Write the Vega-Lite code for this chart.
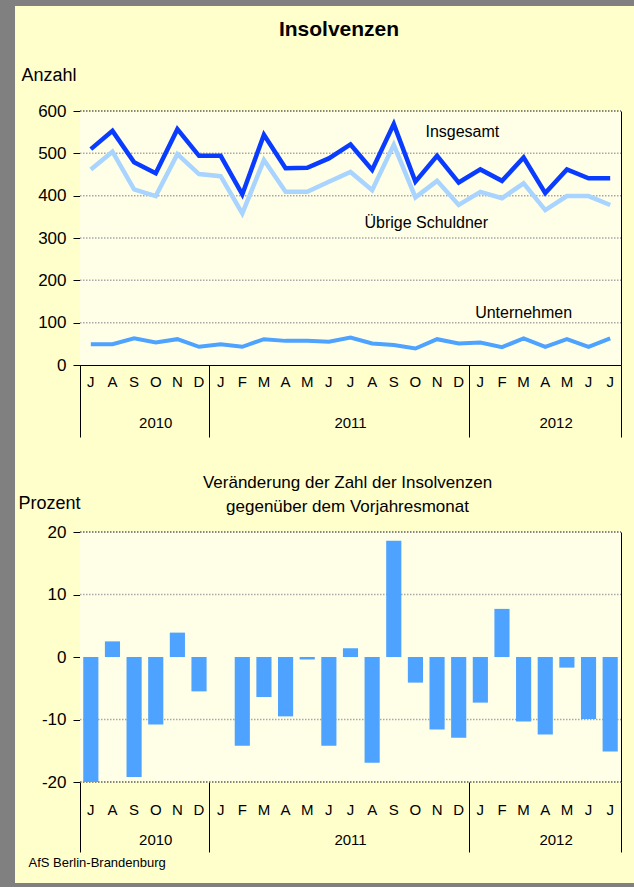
{
  "$schema": "https://vega.github.io/schema/vega-lite/v6.json",
  "width": 619,
  "height": 877,
  "autosize": {"type": "none"},
  "padding": {"left": 15, "top": 6, "right": 0, "bottom": 4},
  "background": "#808080",
  "config": {
    "view": {"fill": "#FFFFCC", "stroke": null},
    "font": "Liberation Sans",
    "axis": {
      "labelFont": "Liberation Sans", "titleFont": "Liberation Sans",
      "labelColor": "#000000", "titleColor": "#000000", "titleFontWeight": "normal",
      "domainColor": "#000000", "tickColor": "#000000", "zindex": 1,
      "labelOverlap": false, "labelFlush": false, "grid": false, "labelAngle": 0
    }
  },
  "datasets": {
    "monate": [
      {"k": "2010-07", "ins": 510, "ueb": 462, "unt": 49, "ver": -20.0},
      {"k": "2010-08", "ins": 553, "ueb": 504, "unt": 49, "ver": 2.5},
      {"k": "2010-09", "ins": 479, "ueb": 415, "unt": 63, "ver": -19.2},
      {"k": "2010-10", "ins": 453, "ueb": 399, "unt": 53, "ver": -10.8},
      {"k": "2010-11", "ins": 557, "ueb": 498, "unt": 61, "ver": 3.9},
      {"k": "2010-12", "ins": 494, "ueb": 451, "unt": 43, "ver": -5.5},
      {"k": "2011-01", "ins": 494, "ueb": 446, "unt": 49, "ver": 0},
      {"k": "2011-02", "ins": 403, "ueb": 358, "unt": 43, "ver": -14.2},
      {"k": "2011-03", "ins": 544, "ueb": 484, "unt": 61, "ver": -6.4},
      {"k": "2011-04", "ins": 465, "ueb": 409, "unt": 57, "ver": -9.5},
      {"k": "2011-05", "ins": 466, "ueb": 409, "unt": 57, "ver": -0.4},
      {"k": "2011-06", "ins": 488, "ueb": 433, "unt": 55, "ver": -14.2},
      {"k": "2011-07", "ins": 521, "ueb": 456, "unt": 65, "ver": 1.4},
      {"k": "2011-08", "ins": 461, "ueb": 413, "unt": 51, "ver": -16.9},
      {"k": "2011-09", "ins": 569, "ueb": 520, "unt": 47, "ver": 18.6},
      {"k": "2011-10", "ins": 433, "ueb": 396, "unt": 39, "ver": -4.1},
      {"k": "2011-11", "ins": 494, "ueb": 435, "unt": 61, "ver": -11.6},
      {"k": "2011-12", "ins": 431, "ueb": 378, "unt": 51, "ver": -12.9},
      {"k": "2012-01", "ins": 462, "ueb": 409, "unt": 53, "ver": -7.3},
      {"k": "2012-02", "ins": 435, "ueb": 394, "unt": 42, "ver": 7.7},
      {"k": "2012-03", "ins": 490, "ueb": 429, "unt": 63, "ver": -10.3},
      {"k": "2012-04", "ins": 406, "ueb": 366, "unt": 43, "ver": -12.4},
      {"k": "2012-05", "ins": 462, "ueb": 399, "unt": 61, "ver": -1.7},
      {"k": "2012-06", "ins": 441, "ueb": 399, "unt": 43, "ver": -9.9},
      {"k": "2012-07", "ins": 441, "ueb": 378, "unt": 63, "ver": -15.1}
    ]
  },
  "resolve": {
    "scale": {"x": "independent", "y": "independent"},
    "axis": {"x": "independent", "y": "independent"}
  },
  "layer": [
    {
      "data": {"values": [{}]},
      "mark": {"type": "rect", "fill": "#FFFFE8"},
      "encoding": {
        "x": {"datum": 0, "type": "quantitative", "scale": {"domain": [0, 1], "range": [65, 606]}, "axis": null},
        "x2": {"datum": 1},
        "y": {"datum": 0, "type": "quantitative", "scale": {"domain": [0, 600], "range": [359, 105], "nice": false},
          "axis": {"orient": "left", "offset": -65, "values": [0, 100, 200, 300, 400, 500, 600],
            "domain": true, "ticks": true, "tickSize": 7, "labelPadding": 7, "labelFontSize": 17,
            "title": "Anzahl", "titleAngle": 0, "titleAlign": "left", "titleBaseline": "middle",
            "titleX": -59, "titleY": 69, "titleFontSize": 18}},
        "y2": {"datum": 600}
      }
    },
    {
      "data": {"values": [{}]},
      "mark": {"type": "rect", "fill": "#FFFFE8"},
      "encoding": {
        "x": {"datum": 0, "type": "quantitative", "scale": {"domain": [0, 1], "range": [65, 606]}, "axis": null},
        "x2": {"datum": 1},
        "y": {"datum": -20, "type": "quantitative", "scale": {"domain": [-20, 20], "range": [776, 526], "nice": false},
          "axis": {"orient": "left", "offset": -65, "values": [-20, -10, 0, 10, 20],
            "labelExpr": "toString(datum.value)",
            "domain": true, "ticks": true, "tickSize": 7, "labelPadding": 7, "labelFontSize": 17,
            "title": "Prozent", "titleAngle": 0, "titleAlign": "left", "titleBaseline": "middle",
            "titleX": -62, "titleY": 497, "titleFontSize": 18}},
        "y2": {"datum": 20}
      }
    },
    {
      "data": {"values": [{"v": 100}, {"v": 200}, {"v": 300}, {"v": 400}, {"v": 500}, {"v": 600}]},
      "mark": {"type": "rule", "strokeWidth": 1.5, "strokeDash": [1.5, 1.5]},
      "encoding": {
        "x": {"datum": 0, "type": "quantitative", "scale": {"domain": [0, 1], "range": [65, 606]}, "axis": null},
        "x2": {"datum": 1},
        "y": {"field": "v", "type": "quantitative", "scale": {"domain": [0, 600], "range": [359, 105], "nice": false},
          "axis": {"orient": "right", "offset": -13, "domain": true, "ticks": false, "labels": false, "title": null}},
        "color": {"condition": {"test": "datum.v == 600", "value": "#606060"}, "value": "#A8A8A8"}
      }
    },
    {
      "data": {"values": [{"v": -20}, {"v": -10}, {"v": 10}, {"v": 20}]},
      "mark": {"type": "rule", "strokeWidth": 1.5, "strokeDash": [1.5, 1.5]},
      "encoding": {
        "x": {"datum": 0, "type": "quantitative", "scale": {"domain": [0, 1], "range": [65, 606]}, "axis": null},
        "x2": {"datum": 1},
        "y": {"field": "v", "type": "quantitative", "scale": {"domain": [-20, 20], "range": [776, 526], "nice": false},
          "axis": {"orient": "right", "offset": -13, "domain": true, "ticks": false, "labels": false, "title": null}},
        "color": {"condition": {"test": "abs(datum.v) == 20", "value": "#606060"}, "value": "#A8A8A8"}
      }
    },
    {
      "data": {"name": "monate"},
      "mark": {"type": "line", "color": "#A8D4FF", "strokeWidth": 4.5},
      "encoding": {
        "x": {"field": "k", "type": "ordinal", "bandPosition": 0.5,
          "scale": {"type": "band", "domain": ["2010-07","2010-08","2010-09","2010-10","2010-11","2010-12","2011-01","2011-02","2011-03","2011-04","2011-05","2011-06","2011-07","2011-08","2011-09","2011-10","2011-11","2011-12","2012-01","2012-02","2012-03","2012-04","2012-05","2012-06","2012-07"], "range": [65, 606], "paddingInner": 0, "paddingOuter": 0},
          "axis": {"orient": "bottom", "offset": -518, "values": ["2010-07", "2011-01", "2012-01"], "bandPosition": 0,
            "domain": false, "ticks": true, "tickSize": 72, "labels": true,
            "labelExpr": "substring(datum.value, 0, 4)", "labelFontSize": 15, "labelPadding": -15, "labelBaseline": "middle",
            "labelOffset": {"condition": [{"test": "datum.value == '2010-07'", "value": 64.92}, {"test": "datum.value == '2011-01'", "value": 129.84}], "value": 75.74},
            "title": null}},
        "y": {"field": "ueb", "type": "quantitative", "scale": {"domain": [0, 600], "range": [359, 105], "nice": false}, "axis": null}
      }
    },
    {
      "data": {"name": "monate"},
      "mark": {"type": "line", "color": "#4DA3FF", "strokeWidth": 4},
      "encoding": {
        "x": {"field": "k", "type": "ordinal", "bandPosition": 0.5,
          "scale": {"type": "band", "domain": ["2010-07","2010-08","2010-09","2010-10","2010-11","2010-12","2011-01","2011-02","2011-03","2011-04","2011-05","2011-06","2011-07","2011-08","2011-09","2011-10","2011-11","2011-12","2012-01","2012-02","2012-03","2012-04","2012-05","2012-06","2012-07"], "range": [65, 606], "paddingInner": 0, "paddingOuter": 0},
          "axis": {"orient": "bottom", "offset": -518, "values": ["2012-07"], "bandPosition": 1,
            "domain": false, "ticks": true, "tickSize": 72, "labels": false, "title": null}},
        "y": {"field": "unt", "type": "quantitative", "scale": {"domain": [0, 600], "range": [359, 105], "nice": false}, "axis": null}
      }
    },
    {
      "data": {"name": "monate"},
      "mark": {"type": "line", "color": "#0A3CFF", "strokeWidth": 4.5},
      "encoding": {
        "x": {"field": "k", "type": "ordinal", "bandPosition": 0.5,
          "scale": {"type": "band", "domain": ["2010-07","2010-08","2010-09","2010-10","2010-11","2010-12","2011-01","2011-02","2011-03","2011-04","2011-05","2011-06","2011-07","2011-08","2011-09","2011-10","2011-11","2011-12","2012-01","2012-02","2012-03","2012-04","2012-05","2012-06","2012-07"], "range": [65, 606], "paddingInner": 0, "paddingOuter": 0},
          "axis": {"orient": "bottom", "offset": -518, "domain": true, "ticks": false, "tickSize": 0,
            "labelExpr": "['J','F','M','A','M','J','J','A','S','O','N','D'][toNumber(substring(datum.value, 5, 7)) - 1]",
            "labelFontSize": 15, "labelPadding": 16, "labelBaseline": "middle", "title": null}},
        "y": {"field": "ins", "type": "quantitative", "scale": {"domain": [0, 600], "range": [359, 105], "nice": false}, "axis": null}
      }
    },
    {
      "data": {"values": [{"label": "Insgesamt", "k": "2011-12", "wert": 551}]},
      "mark": {"type": "text", "fontSize": 16, "color": "#000000", "align": "center", "baseline": "middle"},
      "encoding": {
        "x": {"field": "k", "type": "ordinal", "bandPosition": 0.67,
          "scale": {"type": "band", "domain": ["2010-07","2010-08","2010-09","2010-10","2010-11","2010-12","2011-01","2011-02","2011-03","2011-04","2011-05","2011-06","2011-07","2011-08","2011-09","2011-10","2011-11","2011-12","2012-01","2012-02","2012-03","2012-04","2012-05","2012-06","2012-07"], "range": [65, 606], "paddingInner": 0, "paddingOuter": 0},
          "axis": {"orient": "top", "offset": -105, "domain": false, "ticks": false, "labels": false,
            "title": "Insolvenzen", "titleFontSize": 21, "titleFontWeight": "bold", "titleAngle": 0,
            "titleX": 323.5, "titleY": -82, "titleAlign": "center", "titleBaseline": "middle"}},
        "y": {"field": "wert", "type": "quantitative", "scale": {"domain": [0, 600], "range": [359, 105], "nice": false}, "axis": null},
        "text": {"field": "label"}
      }
    },
    {
      "data": {"values": [{"label": "Übrige Schuldner", "k": "2011-11", "wert": 335}]},
      "mark": {"type": "text", "fontSize": 16, "color": "#000000", "align": "center", "baseline": "middle"},
      "encoding": {
        "x": {"field": "k", "type": "ordinal", "bandPosition": 0,
          "scale": {"type": "band", "domain": ["2010-07","2010-08","2010-09","2010-10","2010-11","2010-12","2011-01","2011-02","2011-03","2011-04","2011-05","2011-06","2011-07","2011-08","2011-09","2011-10","2011-11","2011-12","2012-01","2012-02","2012-03","2012-04","2012-05","2012-06","2012-07"], "range": [65, 606], "paddingInner": 0, "paddingOuter": 0},
          "axis": null},
        "y": {"field": "wert", "type": "quantitative", "scale": {"domain": [0, 600], "range": [359, 105], "nice": false}, "axis": null},
        "text": {"field": "label"}
      }
    },
    {
      "data": {"values": [{"label": "Unternehmen", "k": "2012-03", "wert": 122}]},
      "mark": {"type": "text", "fontSize": 16, "color": "#000000", "align": "center", "baseline": "middle"},
      "encoding": {
        "x": {"field": "k", "type": "ordinal", "bandPosition": 0.5,
          "scale": {"type": "band", "domain": ["2010-07","2010-08","2010-09","2010-10","2010-11","2010-12","2011-01","2011-02","2011-03","2011-04","2011-05","2011-06","2011-07","2011-08","2011-09","2011-10","2011-11","2011-12","2012-01","2012-02","2012-03","2012-04","2012-05","2012-06","2012-07"], "range": [65, 606], "paddingInner": 0, "paddingOuter": 0},
          "axis": null},
        "y": {"field": "wert", "type": "quantitative", "scale": {"domain": [0, 600], "range": [359, 105], "nice": false}, "axis": null},
        "text": {"field": "label"}
      }
    },
    {
      "data": {"name": "monate"},
      "mark": {"type": "bar", "color": "#4DA3FF", "width": {"band": 0.7}},
      "encoding": {
        "x": {"field": "k", "type": "ordinal",
          "scale": {"type": "band", "domain": ["2010-07","2010-08","2010-09","2010-10","2010-11","2010-12","2011-01","2011-02","2011-03","2011-04","2011-05","2011-06","2011-07","2011-08","2011-09","2011-10","2011-11","2011-12","2012-01","2012-02","2012-03","2012-04","2012-05","2012-06","2012-07"], "range": [65, 606], "paddingInner": 0, "paddingOuter": 0},
          "axis": {"orient": "bottom", "offset": -226, "domain": true, "domainColor": "#303030", "ticks": false, "tickSize": 0,
            "labelExpr": "['J','F','M','A','M','J','J','A','S','O','N','D'][toNumber(substring(datum.value, 5, 7)) - 1]",
            "labelFontSize": 15, "labelPadding": 152, "labelBaseline": "middle", "title": null}},
        "y": {"field": "ver", "type": "quantitative", "scale": {"domain": [-20, 20], "range": [776, 526], "nice": false}, "axis": null}
      }
    },
    {
      "data": {"name": "monate"},
      "mark": {"type": "rule", "opacity": 0},
      "encoding": {
        "x": {"field": "k", "type": "ordinal",
          "scale": {"type": "band", "domain": ["2010-07","2010-08","2010-09","2010-10","2010-11","2010-12","2011-01","2011-02","2011-03","2011-04","2011-05","2011-06","2011-07","2011-08","2011-09","2011-10","2011-11","2011-12","2012-01","2012-02","2012-03","2012-04","2012-05","2012-06","2012-07"], "range": [65, 606], "paddingInner": 0, "paddingOuter": 0},
          "axis": {"orient": "bottom", "offset": -101, "values": ["2010-07", "2011-01", "2012-01"], "bandPosition": 0,
            "domain": false, "ticks": true, "tickSize": 70, "labels": true,
            "labelExpr": "substring(datum.value, 0, 4)", "labelFontSize": 15, "labelPadding": -13, "labelBaseline": "middle",
            "labelOffset": {"condition": [{"test": "datum.value == '2010-07'", "value": 64.92}, {"test": "datum.value == '2011-01'", "value": 129.84}], "value": 75.74},
            "title": "AfS Berlin-Brandenburg", "titleFontSize": 13, "titleAngle": 0, "titleAlign": "left", "titleBaseline": "middle",
            "titleX": 13, "titleY": 80}}
      }
    },
    {
      "data": {"name": "monate"},
      "mark": {"type": "rule", "opacity": 0},
      "encoding": {
        "x": {"field": "k", "type": "ordinal",
          "scale": {"type": "band", "domain": ["2010-07","2010-08","2010-09","2010-10","2010-11","2010-12","2011-01","2011-02","2011-03","2011-04","2011-05","2011-06","2011-07","2011-08","2011-09","2011-10","2011-11","2011-12","2012-01","2012-02","2012-03","2012-04","2012-05","2012-06","2012-07"], "range": [65, 606], "paddingInner": 0, "paddingOuter": 0},
          "axis": {"orient": "bottom", "offset": -101, "values": ["2012-07"], "bandPosition": 1,
            "domain": false, "ticks": true, "tickSize": 70, "labels": false,
            "title": ["Veränderung der Zahl der Insolvenzen", "gegenüber dem Vorjahresmonat"],
            "titleFontSize": 17, "titleLineHeight": 24, "titleAngle": 0, "titleAlign": "center", "titleBaseline": "middle",
            "titleX": 332, "titleY": -300}}
      }
    }
  ]
}
